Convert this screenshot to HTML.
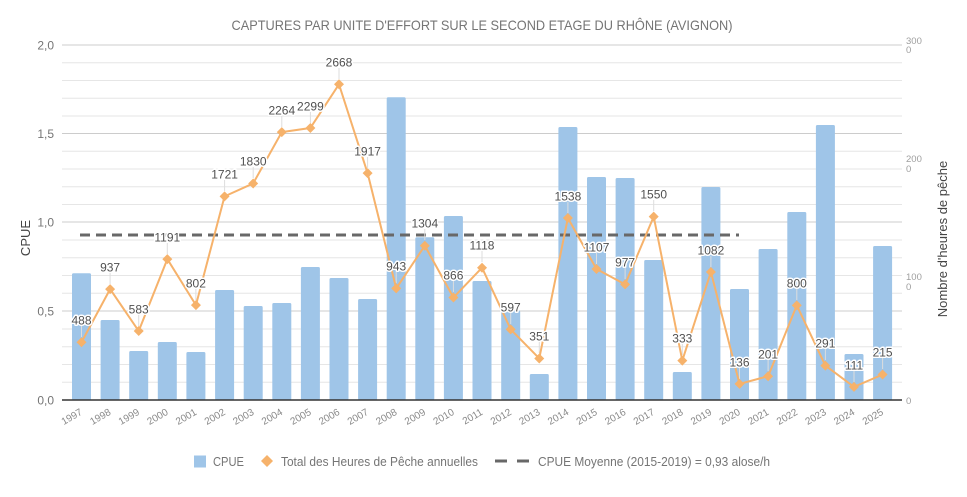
<!DOCTYPE html>
<html><head><meta charset="utf-8"><style>
html,body{margin:0;padding:0;background:#fff;}
svg{display:block;font-family:"Liberation Sans",Arial,sans-serif;}
.lbl{font-size:12px;fill:#505050;stroke:#fff;stroke-width:3px;paint-order:stroke;stroke-linejoin:round;text-anchor:middle;}
.xl{font-size:10px;fill:#8a8a8a;text-anchor:end;}
.yl{font-size:12px;fill:#757575;text-anchor:end;}
.ry{font-size:9.5px;fill:#9e9e9e;}
</style></head><body>
<svg width="967" height="497" viewBox="0 0 967 497" xmlns="http://www.w3.org/2000/svg">
<rect width="967" height="497" fill="#fff"/>
<text x="482" y="30" font-size="14" fill="#757575" text-anchor="middle" textLength="501" lengthAdjust="spacingAndGlyphs">CAPTURES PAR UNITE D'EFFORT SUR LE SECOND ETAGE DU RHÔNE (AVIGNON)</text>
<!-- minor gridlines -->
<g stroke="#e6e6e6" stroke-width="1">
<line x1="62" x2="902" y1="62.75" y2="62.75"/><line x1="62" x2="902" y1="80.5" y2="80.5"/><line x1="62" x2="902" y1="98.25" y2="98.25"/><line x1="62" x2="902" y1="116" y2="116"/>
<line x1="62" x2="902" y1="151.25" y2="151.25"/><line x1="62" x2="902" y1="169" y2="169"/><line x1="62" x2="902" y1="186.75" y2="186.75"/><line x1="62" x2="902" y1="204.5" y2="204.5"/>
<line x1="62" x2="902" y1="240" y2="240"/><line x1="62" x2="902" y1="257.75" y2="257.75"/><line x1="62" x2="902" y1="275.5" y2="275.5"/><line x1="62" x2="902" y1="293.25" y2="293.25"/>
<line x1="62" x2="902" y1="329" y2="329"/><line x1="62" x2="902" y1="346.75" y2="346.75"/><line x1="62" x2="902" y1="364.5" y2="364.5"/><line x1="62" x2="902" y1="382.25" y2="382.25"/>
</g>
<g stroke="#cccccc" stroke-width="1">
<line x1="62" x2="902" y1="45" y2="45"/><line x1="62" x2="902" y1="133.5" y2="133.5"/><line x1="62" x2="902" y1="222" y2="222"/><line x1="62" x2="902" y1="311" y2="311"/>
</g>
<!-- left axis labels -->
<text class="yl" x="54" y="49.5">2,0</text>
<text class="yl" x="54" y="138">1,5</text>
<text class="yl" x="54" y="226.5">1,0</text>
<text class="yl" x="54" y="315.5">0,5</text>
<text class="yl" x="54" y="404.5">0,0</text>
<text x="30" y="238" font-size="13" fill="#444" text-anchor="middle" transform="rotate(-90 30 238)">CPUE</text>
<!-- right axis -->
<text class="ry" x="906" y="44">300</text><text class="ry" x="906" y="53">0</text>
<text class="ry" x="906" y="162">200</text><text class="ry" x="906" y="172">0</text>
<text class="ry" x="906" y="280">100</text><text class="ry" x="906" y="290">0</text>
<text class="ry" x="906" y="404">0</text>
<text x="947" y="239" font-size="13" fill="#444" text-anchor="middle" transform="rotate(-90 947 239)">Nombre d'heures de pêche</text>
<!-- bars -->
<g fill="#9fc5e8">
<rect x="72" y="273.3" width="19" height="126.7" rx="1.5"/>
<rect x="100.6" y="320" width="19" height="80" rx="1.5"/>
<rect x="129.2" y="351" width="19" height="49" rx="1.5"/>
<rect x="157.8" y="342" width="19" height="58" rx="1.5"/>
<rect x="186.4" y="352" width="19" height="48" rx="1.5"/>
<rect x="215.1" y="290" width="19" height="110" rx="1.5"/>
<rect x="243.7" y="306" width="19" height="94" rx="1.5"/>
<rect x="272.3" y="303" width="19" height="97" rx="1.5"/>
<rect x="300.9" y="267" width="19" height="133" rx="1.5"/>
<rect x="329.5" y="278" width="19" height="122" rx="1.5"/>
<rect x="358.1" y="299" width="19" height="101" rx="1.5"/>
<rect x="386.7" y="97.3" width="19" height="302.7" rx="1.5"/>
<rect x="415.3" y="237.3" width="19" height="162.7" rx="1.5"/>
<rect x="443.9" y="216" width="19" height="184" rx="1.5"/>
<rect x="472.5" y="281" width="19" height="119" rx="1.5"/>
<rect x="501.2" y="310.5" width="19" height="89.5" rx="1.5"/>
<rect x="529.8" y="374" width="19" height="26" rx="1.5"/>
<rect x="558.4" y="127" width="19" height="273" rx="1.5"/>
<rect x="587" y="177" width="19" height="223" rx="1.5"/>
<rect x="615.6" y="178" width="19" height="222" rx="1.5"/>
<rect x="644.2" y="260" width="19" height="140" rx="1.5"/>
<rect x="672.8" y="372" width="19" height="28" rx="1.5"/>
<rect x="701.4" y="187" width="19" height="213" rx="1.5"/>
<rect x="730" y="289" width="19" height="111" rx="1.5"/>
<rect x="758.6" y="249" width="19" height="151" rx="1.5"/>
<rect x="787.3" y="212" width="19" height="188" rx="1.5"/>
<rect x="815.9" y="125" width="19" height="275" rx="1.5"/>
<rect x="844.5" y="354" width="19" height="46" rx="1.5"/>
<rect x="873.1" y="246" width="19" height="154" rx="1.5"/>
</g>
<!-- baseline -->
<line x1="62" x2="902" y1="400" y2="400" stroke="#333" stroke-width="1.5"/>
<!-- dashed average -->
<line x1="80" x2="739" y1="235" y2="235" stroke="#686868" stroke-width="3" stroke-dasharray="10 6"/>
<!-- leader lines -->
<g stroke="#dddddd" stroke-width="1">
<line x1="81.5" x2="81.5" y1="337" y2="326"/>
<line x1="110.1" x2="110.1" y1="284" y2="273"/>
<line x1="138.7" x2="138.7" y1="326" y2="315"/>
<line x1="167.3" x2="167.3" y1="254" y2="243"/>
<line x1="195.9" x2="195.9" y1="300" y2="289"/>
<line x1="224.6" x2="224.6" y1="191" y2="180"/>
<line x1="253.2" x2="253.2" y1="178" y2="167"/>
<line x1="281.8" x2="281.8" y1="127" y2="116"/>
<line x1="310.4" x2="310.4" y1="123" y2="112"/>
<line x1="339" x2="339" y1="79" y2="68"/>
<line x1="367.6" x2="367.6" y1="168" y2="157"/>
<line x1="396.2" x2="396.2" y1="283" y2="272"/>
<line x1="424.8" x2="424.8" y1="240" y2="229"/>
<line x1="453.4" x2="453.4" y1="292" y2="281"/>
<line x1="482" x2="482" y1="262" y2="251"/>
<line x1="510.7" x2="510.7" y1="324" y2="313"/>
<line x1="539.3" x2="539.3" y1="353" y2="342"/>
<line x1="567.9" x2="567.9" y1="213" y2="202"/>
<line x1="596.5" x2="596.5" y1="264" y2="253"/>
<line x1="625.1" x2="625.1" y1="279" y2="268"/>
<line x1="653.7" x2="653.7" y1="211" y2="200"/>
<line x1="682.3" x2="682.3" y1="355" y2="344"/>
<line x1="710.9" x2="710.9" y1="267" y2="256"/>
<line x1="739.5" x2="739.5" y1="379" y2="368"/>
<line x1="768.1" x2="768.1" y1="371" y2="360"/>
<line x1="796.8" x2="796.8" y1="300" y2="289"/>
<line x1="825.4" x2="825.4" y1="360" y2="349"/>
<line x1="854" x2="854" y1="382" y2="371"/>
<line x1="882.6" x2="882.6" y1="369" y2="358"/>
</g>
<!-- line series -->
<polyline fill="none" stroke="#f6b26b" stroke-width="2" stroke-linejoin="round" points="81.5,342.25 110.11,289.12 138.72,331.01 167.33,259.07 195.94,305.1 224.55,196.35 253.16,183.45 281.77,132.09 310.38,127.95 338.99,84.29 367.6,173.16 396.21,288.41 424.82,245.69 453.43,297.52 482.04,267.7 510.65,329.35 539.26,358.46 567.87,218 596.48,269 625.09,284.39 653.7,216.58 682.31,360.59 710.92,271.96 739.53,383.91 768.14,376.21 796.75,305.33 825.36,365.57 853.97,386.86 882.58,374.56"/>
<g fill="#f6b26b">
<path d="M81.5 337.25l5 5l-5 5l-5 -5z"/>
<path d="M110.11 284.12l5 5l-5 5l-5 -5z"/>
<path d="M138.72 326.01l5 5l-5 5l-5 -5z"/>
<path d="M167.33 254.07l5 5l-5 5l-5 -5z"/>
<path d="M195.94 300.1l5 5l-5 5l-5 -5z"/>
<path d="M224.55 191.35l5 5l-5 5l-5 -5z"/>
<path d="M253.16 178.45l5 5l-5 5l-5 -5z"/>
<path d="M281.77 127.09l5 5l-5 5l-5 -5z"/>
<path d="M310.38 122.95l5 5l-5 5l-5 -5z"/>
<path d="M338.99 79.29l5 5l-5 5l-5 -5z"/>
<path d="M367.6 168.16l5 5l-5 5l-5 -5z"/>
<path d="M396.21 283.41l5 5l-5 5l-5 -5z"/>
<path d="M424.82 240.69l5 5l-5 5l-5 -5z"/>
<path d="M453.43 292.52l5 5l-5 5l-5 -5z"/>
<path d="M482.04 262.7l5 5l-5 5l-5 -5z"/>
<path d="M510.65 324.35l5 5l-5 5l-5 -5z"/>
<path d="M539.26 353.46l5 5l-5 5l-5 -5z"/>
<path d="M567.87 213l5 5l-5 5l-5 -5z"/>
<path d="M596.48 264l5 5l-5 5l-5 -5z"/>
<path d="M625.09 279.39l5 5l-5 5l-5 -5z"/>
<path d="M653.7 211.58l5 5l-5 5l-5 -5z"/>
<path d="M682.31 355.59l5 5l-5 5l-5 -5z"/>
<path d="M710.92 266.96l5 5l-5 5l-5 -5z"/>
<path d="M739.53 378.91l5 5l-5 5l-5 -5z"/>
<path d="M768.14 371.21l5 5l-5 5l-5 -5z"/>
<path d="M796.75 300.33l5 5l-5 5l-5 -5z"/>
<path d="M825.36 360.57l5 5l-5 5l-5 -5z"/>
<path d="M853.97 381.86l5 5l-5 5l-5 -5z"/>
<path d="M882.58 369.56l5 5l-5 5l-5 -5z"/>
</g>
<!-- data labels -->
<text class="lbl" x="81.5" y="324.5">488</text>
<text class="lbl" x="110.1" y="271.5">937</text>
<text class="lbl" x="138.7" y="313.5">583</text>
<text class="lbl" x="167.3" y="241.5">1191</text>
<text class="lbl" x="195.9" y="287.5">802</text>
<text class="lbl" x="224.6" y="178.5">1721</text>
<text class="lbl" x="253.2" y="165.5">1830</text>
<text class="lbl" x="281.8" y="114.5">2264</text>
<text class="lbl" x="310.4" y="110.5">2299</text>
<text class="lbl" x="339" y="66.5">2668</text>
<text class="lbl" x="367.6" y="155.5">1917</text>
<text class="lbl" x="396.2" y="270.5">943</text>
<text class="lbl" x="424.8" y="227.5">1304</text>
<text class="lbl" x="453.4" y="279.5">866</text>
<text class="lbl" x="482" y="249.5">1118</text>
<text class="lbl" x="510.7" y="311.5">597</text>
<text class="lbl" x="539.3" y="340.5">351</text>
<text class="lbl" x="567.9" y="200.5">1538</text>
<text class="lbl" x="596.5" y="251.5">1107</text>
<text class="lbl" x="625.1" y="266.5">977</text>
<text class="lbl" x="653.7" y="198.5">1550</text>
<text class="lbl" x="682.3" y="342.5">333</text>
<text class="lbl" x="710.9" y="254.5">1082</text>
<text class="lbl" x="739.5" y="366.5">136</text>
<text class="lbl" x="768.1" y="358.5">201</text>
<text class="lbl" x="796.8" y="287.5">800</text>
<text class="lbl" x="825.4" y="347.5">291</text>
<text class="lbl" x="854" y="369.5">111</text>
<text class="lbl" x="882.6" y="356.5">215</text>
<!-- x labels -->
<g class="xl">
<text transform="translate(83,414) rotate(-30)">1997</text>
<text transform="translate(111.6,414) rotate(-30)">1998</text>
<text transform="translate(140.2,414) rotate(-30)">1999</text>
<text transform="translate(168.8,414) rotate(-30)">2000</text>
<text transform="translate(197.4,414) rotate(-30)">2001</text>
<text transform="translate(226.1,414) rotate(-30)">2002</text>
<text transform="translate(254.7,414) rotate(-30)">2003</text>
<text transform="translate(283.3,414) rotate(-30)">2004</text>
<text transform="translate(311.9,414) rotate(-30)">2005</text>
<text transform="translate(340.5,414) rotate(-30)">2006</text>
<text transform="translate(369.1,414) rotate(-30)">2007</text>
<text transform="translate(397.7,414) rotate(-30)">2008</text>
<text transform="translate(426.3,414) rotate(-30)">2009</text>
<text transform="translate(454.9,414) rotate(-30)">2010</text>
<text transform="translate(483.5,414) rotate(-30)">2011</text>
<text transform="translate(512.2,414) rotate(-30)">2012</text>
<text transform="translate(540.8,414) rotate(-30)">2013</text>
<text transform="translate(569.4,414) rotate(-30)">2014</text>
<text transform="translate(598,414) rotate(-30)">2015</text>
<text transform="translate(626.6,414) rotate(-30)">2016</text>
<text transform="translate(655.2,414) rotate(-30)">2017</text>
<text transform="translate(683.8,414) rotate(-30)">2018</text>
<text transform="translate(712.4,414) rotate(-30)">2019</text>
<text transform="translate(741,414) rotate(-30)">2020</text>
<text transform="translate(769.6,414) rotate(-30)">2021</text>
<text transform="translate(798.3,414) rotate(-30)">2022</text>
<text transform="translate(826.9,414) rotate(-30)">2023</text>
<text transform="translate(855.5,414) rotate(-30)">2024</text>
<text transform="translate(884.1,414) rotate(-30)">2025</text>
</g>
<!-- legend -->
<rect x="194" y="455.5" width="12" height="12" fill="#9fc5e8"/>
<text x="213" y="466" font-size="12.5" fill="#757575" textLength="31" lengthAdjust="spacingAndGlyphs">CPUE</text>
<path d="M267 455l6 6l-6 6l-6 -6z" fill="#f6b26b"/>
<text x="281" y="466" font-size="12.5" fill="#757575" textLength="197" lengthAdjust="spacingAndGlyphs">Total des Heures de Pêche annuelles</text>
<line x1="495" x2="530" y1="461" y2="461" stroke="#686868" stroke-width="3" stroke-dasharray="12 10"/>
<text x="538" y="466" font-size="12.5" fill="#757575" textLength="232" lengthAdjust="spacingAndGlyphs">CPUE Moyenne (2015-2019) = 0,93 alose/h</text>
</svg>
</body></html>
